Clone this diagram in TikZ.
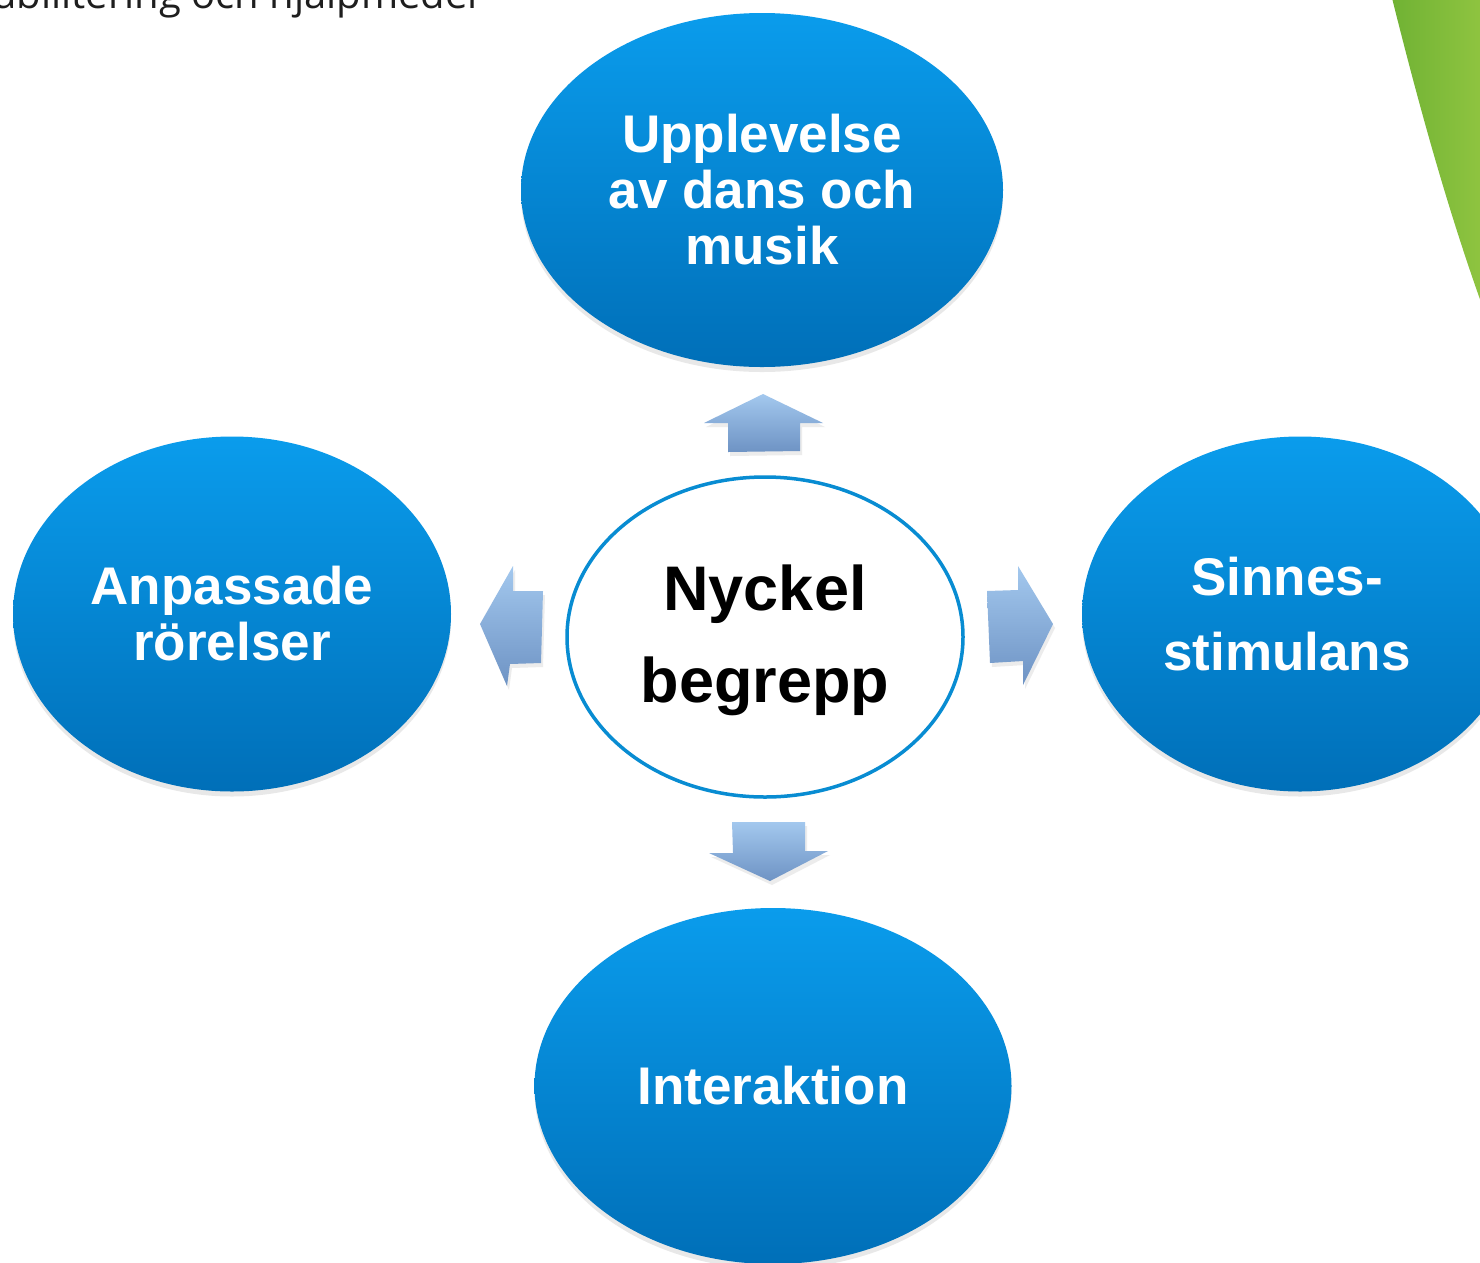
\documentclass[tikz,border=0pt]{standalone}
\usepackage{fontspec}
\setmainfont{Liberation Sans}
\newfontfamily\headfont{Open Sans}
\usetikzlibrary{shapes.geometric,shadows}
\definecolor{blueTop}{RGB}{10,156,236}
\definecolor{blueBot}{RGB}{0,111,184}
\definecolor{rimBlue}{RGB}{8,140,210}
\definecolor{arrTop}{RGB}{163,200,238}
\definecolor{arrBot}{RGB}{110,147,196}
\definecolor{leafA}{RGB}{112,178,52}
\definecolor{leafB}{RGB}{143,196,64}
\definecolor{headGray}{RGB}{30,30,30}
\tikzset{
  bubble/.style={ellipse, inner sep=0pt, top color=blueTop, bottom color=blueBot,
    draw=none, text=white, align=center, font=\bfseries\fontsize{53}{56}\selectfont,
    drop shadow={opacity=0.18, shadow xshift=0pt, shadow yshift=-5pt}},
  hub/.style={ellipse, inner sep=0pt, fill=white, draw=rimBlue, line width=3.5pt,
    text=black, align=center, font=\bfseries\fontsize{63}{92}\selectfont},
  blockarrow/.style={top color=arrTop, bottom color=arrBot, draw=none,
    drop shadow={opacity=0.15, shadow xshift=2pt, shadow yshift=-4pt}}
}
\begin{document}
\begin{tikzpicture}[x=1pt,y=-1pt]
\useasboundingbox (0,0) rectangle (1480,1262);
\clip (0,0) rectangle (1480,1262);
\fill[white] (0,0) rectangle (1480,1262);
% green leaf
\path[left color=leafA, right color=leafB] (1392,-2) .. controls (1420,110) and (1448,210) .. (1482,305) -- (1482,-2) -- cycle;
% header text
\node[anchor=base east, inner sep=0pt, text=headGray, font=\headfont\fontsize{40}{44}\selectfont] (hdr) at (478,8) {abilitering och hjälpmedel};
% nodes
\node[bubble, minimum width=482pt, minimum height=354pt] (top) at (762,190) {Upplevelse\\av dans och\\musik};
\node[bubble, minimum width=438pt, minimum height=355pt] (left) at (232,614) {Anpassade\\rörelser};
\node[bubble, minimum width=436pt, minimum height=355pt, font=\bfseries\fontsize{53}{75}\selectfont] (right) at (1300,614) {\hspace*{-26pt}Sinnes-\\\hspace*{-26pt}stimulans};
\node[bubble, minimum width=477pt, minimum height=356pt] (bottom) at (773,1086) {Interaktion};
\node[hub, minimum width=396pt, minimum height=320pt] (hub) at (765,637) {};
\node[text=black, align=center, font=\bfseries\fontsize{63}{92}\selectfont] (hubtext) at ([yshift=-3pt]hub.center) {Nyckel\\begrepp};
% block arrows
\path[blockarrow] (763,394) -- (823,423) -- (800,423) -- (800,451) -- (728,452) -- (728,423) -- (704,423) -- cycle;
\path[blockarrow] (480,624) -- (513,566) -- (513,591) -- (543,591) -- (541,663) -- (510,664) -- (507,686) -- cycle;
\path[blockarrow] (987,591) -- (1018,590) -- (1018,566) -- (1053,624) -- (1023,685) -- (1023,661) -- (990,663) -- cycle;
\path[blockarrow] (732,822) -- (805,822) -- (805,851) -- (828,851) -- (770,881) -- (709,853) -- (733,853) -- cycle;
\end{tikzpicture}
\end{document}
